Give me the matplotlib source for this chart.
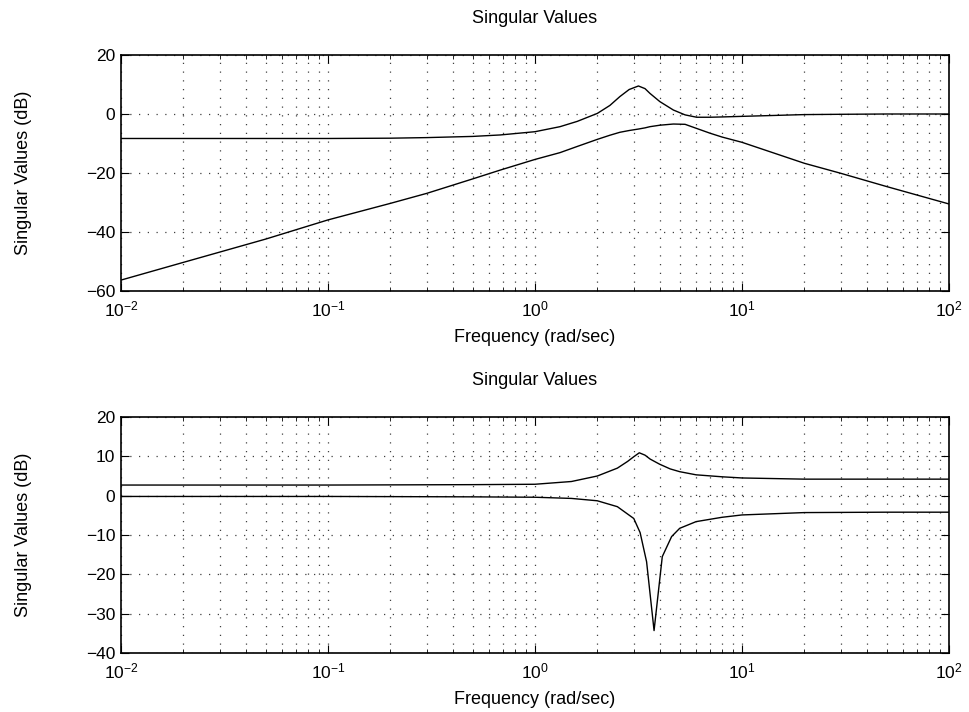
import matplotlib.pyplot as plt

plt.rcParams['font.family'] = ['Liberation Sans', 'DejaVu Sans']
plt.rcParams['font.size'] = 12.5

# top plot, frequencies (rad/sec) and singular values (dB)
w_top = [0.01, 0.02, 0.05, 0.1, 0.2, 0.3, 0.5, 0.68, 1.0, 1.32, 1.6, 2.0, 2.3, 2.57, 2.85, 3.16, 3.4, 3.59,
         4.01, 4.66, 5.31, 6.04, 7.0, 8.0, 10.0, 20.0, 30.0, 50.0, 100.0]
sv1_top = [-8.3, -8.3, -8.3, -8.3, -8.2, -8.0, -7.6, -7.1, -6.0, -4.3, -2.5, 0.2, 2.9, 5.9, 8.3, 9.5, 8.6, 7.0,
           4.2, 1.35, -0.3, -1.1, -1.1, -1.0, -0.8, -0.2, -0.1, 0.0, 0.0]
sv2_top = [-56.3, -50.3, -42.4, -35.9, -30.3, -26.9, -22.0, -19.0, -15.4, -13.1, -11.0, -8.6, -7.2, -6.2, -5.6, -5.1, -4.7, -4.3,
           -3.8, -3.4, -3.5, -4.9, -6.5, -7.8, -9.6, -16.7, -20.1, -24.6, -30.5]

# bottom plot
w_bot1 = [0.01, 0.1, 0.5, 1.0, 1.5, 2.0, 2.5, 2.8, 3.0, 3.19, 3.4, 3.6, 4.0, 4.5, 5.0, 6.0, 8.0, 10.0, 20.0, 50.0, 100.0]
sv1_bot = [2.7, 2.7, 2.8, 2.9, 3.6, 5.0, 7.0, 8.7, 9.9, 10.9, 10.3, 9.3, 8.0, 6.8, 6.1, 5.3, 4.8, 4.5, 4.2, 4.2, 4.2]
w_bot2 = [0.01, 0.1, 0.5, 1.0, 1.5, 2.0, 2.5, 3.0, 3.22, 3.46, 3.76, 4.12, 4.57, 5.0, 6.0, 8.0, 10.0, 20.0, 50.0, 100.0]
sv2_bot = [-0.2, -0.2, -0.3, -0.4, -0.7, -1.3, -2.8, -5.8, -9.4, -16.8, -34.3, -15.5, -10.4, -8.3, -6.6, -5.5, -4.9, -4.3, -4.2, -4.2]

grid_style = dict(linestyle=(0, (1, 6)), color='0.25', linewidth=0.9)


def style_axes(ax, ylim, yticks):
    ax.set_xscale('log')
    ax.set_xlim(1e-2, 1e2)
    ax.set_ylim(*ylim)
    ax.set_yticks(yticks)
    ax.grid(True, which='major', axis='both', **grid_style)
    ax.grid(True, which='minor', axis='x', **grid_style)
    ax.tick_params(which='both', direction='in', top=True, right=True, labelsize=12.5)
    ax.tick_params(axis='x', which='major', length=6, pad=6)
    ax.tick_params(axis='y', which='major', length=6, pad=4)
    ax.tick_params(which='minor', length=3)
    ax.set_title('Singular Values', fontsize=13, pad=23)
    ax.set_xlabel('Frequency (rad/sec)', fontsize=13)
    ax.xaxis.set_label_coords(0.5, -0.162)
    ax.set_ylabel('Singular Values (dB)', fontsize=13)
    ax.yaxis.set_label_coords(-0.108, 0.5)
    for sp in ax.spines.values():
        sp.set_linewidth(1.2)


fig = plt.figure(figsize=(9.69, 7.12), dpi=100)
ax1 = fig.add_axes([121 / 969, 1 - 291 / 712, 828 / 969, 236 / 712])
ax2 = fig.add_axes([121 / 969, 1 - 653 / 712, 828 / 969, 236 / 712])

ax1.plot(w_top, sv1_top, color='black', linewidth=1)
ax1.plot(w_top, sv2_top, color='black', linewidth=1)
style_axes(ax1, (-60, 20), [-60, -40, -20, 0, 20])

ax2.plot(w_bot1, sv1_bot, color='black', linewidth=1)
ax2.plot(w_bot2, sv2_bot, color='black', linewidth=1)
style_axes(ax2, (-40, 20), [-40, -30, -20, -10, 0, 10, 20])

fig.savefig('out.png', dpi=100)
